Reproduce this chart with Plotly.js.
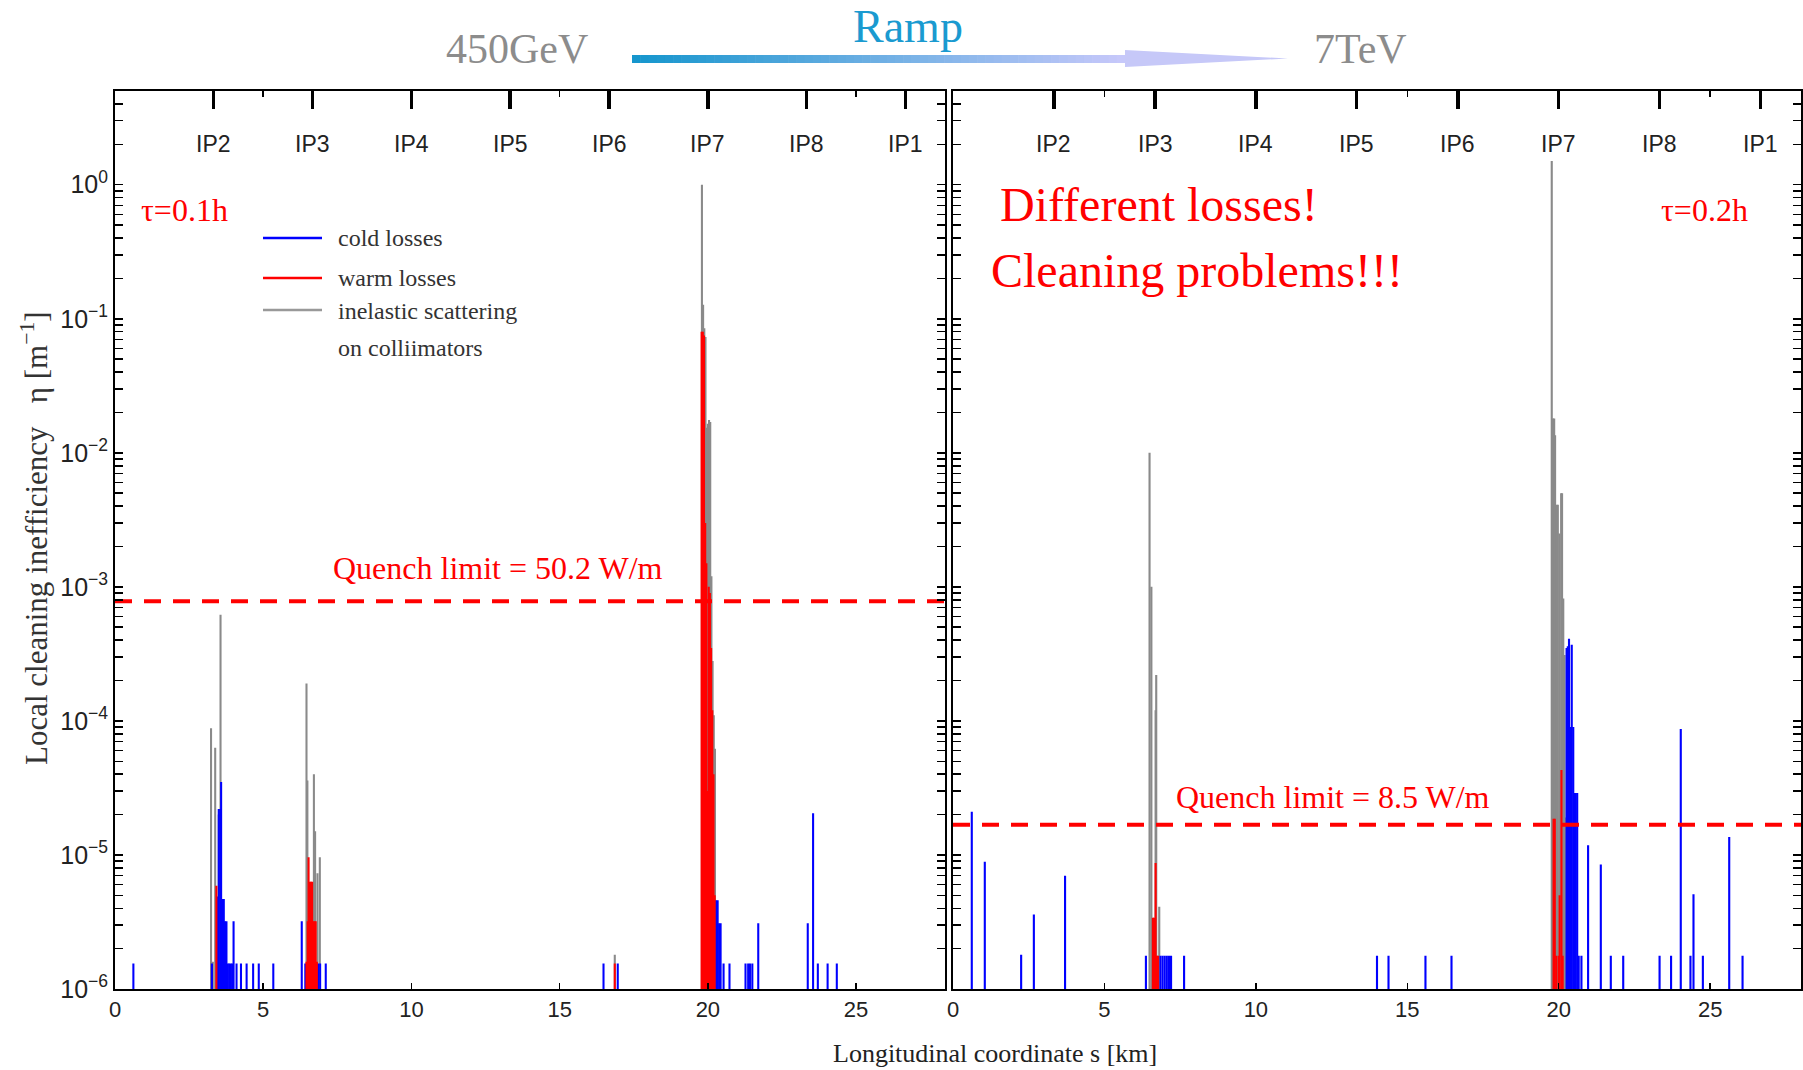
<!DOCTYPE html>
<html>
<head>
<meta charset="utf-8">
<script src="https://cdn.plot.ly/plotly-3.0.1.min.js"></script>
<style>html,body{margin:0;padding:0;background:#fff;}#chart{width:1803px;height:1070px;}</style>
</head>
<body>
<div id="chart"></div>
<script>
// ---------- DATA ----------
// s positions in km, values = local cleaning inefficiency eta [1/m]
const ipPositions = [3.33, 6.67, 10.0, 13.33, 16.67, 20.0, 23.33, 26.66];
const ipLabels = ['IP2', 'IP3', 'IP4', 'IP5', 'IP6', 'IP7', 'IP8', 'IP1'];
const sRange = [0, 28];
const etaTickVals = [1e-6, 1e-5, 1e-4, 1e-3, 1e-2, 1e-1, 1];
const etaTickText = ['10<sup>−6</sup>', '10<sup>−5</sup>', '10<sup>−4</sup>', '10<sup>−3</sup>', '10<sup>−2</sup>', '10<sup>−1</sup>', '10<sup>0</sup>'];

// 450 GeV, tau = 0.1 h
const inj_inelastic_s = [3.24, 3.30, 3.38, 3.50, 3.56, 6.46, 6.49, 6.71, 6.75, 6.83, 6.91, 16.86,
  19.80, 19.84, 19.88, 19.92, 19.96, 20.00, 20.04, 20.08, 20.12, 20.16, 20.20, 20.24];
const inj_inelastic_eta = [8.8e-5, 1.6e-6, 6.3e-5, 2.0e-5, 6.2e-4, 1.9e-4, 3.6e-5, 4.0e-5, 1.5e-5, 7.3e-6, 9.6e-6, 1.8e-6,
  1.0, 0.127, 0.085, 0.073, 0.0154, 0.0165, 0.0176, 0.017, 0.0012, 2.8e-4, 1.1e-4, 6.2e-5];

const inj_warm_s = [3.42, 6.46, 6.50, 6.53, 6.57, 6.61, 6.65, 6.69, 6.73, 6.77, 6.81, 16.86,
  19.79, 19.83, 19.87, 19.91, 19.95, 19.99, 20.03, 20.07, 20.11, 20.15, 20.19, 20.23];
const inj_warm_eta = [5.9e-6, 1.6e-6, 3.2e-6, 9.6e-6, 6.3e-6, 6.3e-6, 6.3e-6, 3.2e-6, 3.2e-6, 3.2e-6, 1.6e-6, 1.55e-6,
  0.08, 0.08, 0.075, 3.0e-3, 1.5e-3, 3.0e-5, 1.0e-3, 9.0e-4, 3.5e-4, 1.2e-4, 4.0e-5, 5.0e-6];

const inj_cold_s = [0.62, 3.27, 3.44, 3.50, 3.55, 3.58, 3.63, 3.67, 3.71, 3.76, 3.80, 3.85, 3.90, 3.95, 4.00,
  4.10, 4.25, 4.44, 4.66, 4.85, 5.34, 6.30, 6.42, 6.85, 6.92, 7.11, 16.48, 16.96,
  20.28, 20.33, 20.38, 20.43, 20.53, 20.73, 21.27, 21.36, 21.42, 21.50, 21.70,
  23.37, 23.55, 23.71, 24.04, 24.35];
const inj_cold_eta = [1.55e-6, 1.55e-6, 4.9e-6, 2.2e-5, 2.2e-5, 3.5e-5, 4.7e-6, 4.7e-6, 3.2e-6, 3.2e-6, 1.55e-6, 1.55e-6, 1.55e-6, 1.55e-6, 3.2e-6,
  1.55e-6, 1.55e-6, 1.55e-6, 1.55e-6, 1.55e-6, 1.55e-6, 3.2e-6, 1.55e-6, 1.55e-6, 1.55e-6, 1.55e-6, 1.55e-6, 1.55e-6,
  4.6e-6, 4.6e-6, 3.1e-6, 3.1e-6, 1.55e-6, 1.55e-6, 1.55e-6, 1.55e-6, 1.55e-6, 1.55e-6, 3.1e-6,
  3.1e-6, 2.05e-5, 1.55e-6, 1.55e-6, 1.55e-6];

// 7 TeV, tau = 0.2 h
const top_inelastic_s = [6.49, 6.55, 6.69, 6.71, 6.81,
  19.77, 19.81, 19.85, 19.88, 19.93, 19.97, 20.02, 20.08, 20.11, 20.15, 20.19, 20.23];
const top_inelastic_eta = [1.0e-2, 1.0e-3, 1.2e-4, 2.2e-4, 4.1e-6,
  1.5, 0.018, 0.018, 0.0135, 4.1e-3, 4.1e-3, 2.5e-3, 5.0e-3, 5.0e-3, 8.2e-4, 3.1e-4, 1.9e-5];

const top_warm_s = [6.60, 6.64, 6.69, 6.73, 6.77, 19.83, 19.87, 19.92, 20.00, 20.03, 20.09, 20.13];
const top_warm_eta = [3.4e-6, 3.4e-6, 8.7e-6, 1.77e-6, 1.77e-6, 1.86e-5, 1.86e-5, 1.77e-6, 1.77e-6, 5.0e-6, 4.3e-5, 1.77e-6];

const top_cold_s = [0.62, 1.05, 2.25, 2.67, 3.70, 6.37, 6.85, 6.92, 6.99, 7.06, 7.13, 7.20, 7.63,
  14.00, 14.38, 15.60, 16.46,
  20.26, 20.30, 20.34, 20.39, 20.43, 20.48, 20.52, 20.56, 20.61, 20.66, 20.75, 20.97, 21.39,
  21.72, 22.13, 23.33, 23.71, 24.03, 24.35, 24.45, 24.76, 25.63, 26.07];
const top_cold_eta = [2.1e-5, 8.9e-6, 1.8e-6, 3.6e-6, 7.0e-6, 1.77e-6, 1.77e-6, 1.77e-6, 1.77e-6, 1.77e-6, 1.77e-6, 1.77e-6, 1.77e-6,
  1.77e-6, 1.77e-6, 1.77e-6, 1.77e-6,
  3.5e-4, 3.6e-4, 4.1e-4, 9.0e-5, 3.7e-4, 9.0e-5, 2.9e-5, 2.9e-5, 2.9e-5, 1.77e-6, 1.77e-6, 1.18e-5, 8.5e-6,
  1.77e-6, 1.77e-6, 1.77e-6, 1.77e-6, 8.7e-5, 1.77e-6, 5.1e-6, 1.77e-6, 1.36e-5, 1.77e-6];

const quenchInj = 7.8e-4;   // 50.2 W/m
const quenchTop = 1.68e-5;  // 8.5 W/m

// ---------- STYLE ----------
const COLD = '#0000ff', WARM = '#ff0000', INEL = '#8a8a8a';
const SERIF = 'Liberation Serif, Times New Roman, serif';
const SANS = 'Liberation Sans, Arial, sans-serif';
const BW = 0.07;

function bars(x, y, color, xa, ya) {
  return {type: 'bar', x: x, y: y, width: BW, xaxis: xa, yaxis: ya,
    marker: {color: color, line: {width: 0}}, showlegend: false, hoverinfo: 'x+y'};
}
function quench(q, xa, ya) {
  return {type: 'scatter', mode: 'lines', x: sRange, y: [q, q], xaxis: xa, yaxis: ya,
    line: {color: '#ff0000', width: 4, dash: '17px,12px'}, showlegend: false, hoverinfo: 'y'};
}
// carrier for the IP tick axis (no visible marks)
function ipCarrier(xa, ya) {
  return {type: 'scatter', mode: 'markers', x: ipPositions, y: ipPositions.map(() => null),
    xaxis: xa, yaxis: ya, showlegend: false, hoverinfo: 'skip', marker: {opacity: 0}};
}

const data = [
  bars(inj_inelastic_s, inj_inelastic_eta, INEL, 'x', 'y'),
  bars(inj_cold_s, inj_cold_eta, COLD, 'x', 'y'),
  bars(inj_warm_s, inj_warm_eta, WARM, 'x', 'y'),
  quench(quenchInj, 'x', 'y'),
  bars(top_inelastic_s, top_inelastic_eta, INEL, 'x2', 'y2'),
  bars(top_cold_s, top_cold_eta, COLD, 'x2', 'y2'),
  bars(top_warm_s, top_warm_eta, WARM, 'x2', 'y2'),
  quench(quenchTop, 'x2', 'y2'),
  ipCarrier('x3', 'y'),
  ipCarrier('x4', 'y2')
];

// geometry helpers (pixel -> paper)
const PL = 115, PR = 1801, PT = 91, PB = 989;
const px = v => (v - PL) / (PR - PL);
const py = v => (PB - v) / (PB - PT);

function xAxis(domain, anchor) {
  return {domain: domain, anchor: anchor, range: sRange, dtick: 5, tick0: 0,
    ticks: 'inside', ticklen: 6, tickwidth: 1.5, tickcolor: '#000', mirror: 'allticks',
    showline: true, linewidth: 2, linecolor: '#000', showgrid: false, zeroline: false,
    tickfont: {family: SANS, size: 22, color: '#222'}, fixedrange: true};
}
function yAxis(domain, anchor, labels) {
  return {domain: domain, anchor: anchor, type: 'log', range: [-6, Math.log10(5)],
    tickmode: 'array', tickvals: etaTickVals, ticktext: etaTickText, showticklabels: labels,
    ticks: 'inside', ticklen: 8, tickwidth: 1.5, tickcolor: '#000', mirror: 'allticks',
    minor: {ticks: 'inside', ticklen: 4, dtick: 'D1', tickcolor: '#000', showgrid: false},
    showline: true, linewidth: 2, linecolor: '#000', showgrid: false, zeroline: false,
    tickfont: {family: SANS, size: 25, color: '#222'}, fixedrange: true};
}
function ipAxis(over, anchor) {
  return {overlaying: over, anchor: anchor, side: 'top', range: sRange,
    tickmode: 'array', tickvals: ipPositions, ticktext: ipLabels, showticklabels: false,
    ticks: 'inside', ticklen: 18, tickwidth: 3.5, tickcolor: '#000',
    showline: false, showgrid: false, zeroline: false, fixedrange: true};
}

const annotations = [];
const shapes = [];
function txt(text, x, y, size, color, opts) {
  annotations.push(Object.assign({text: text, x: x, y: y, xref: 'paper', yref: 'paper',
    xanchor: 'center', yanchor: 'middle',
    showarrow: false, font: {family: SERIF, size: size, color: color}}, opts || {}));
}

// IP labels (inside the top of each panel)
ipPositions.forEach((p, i) => {
  ['x', 'x2'].forEach(xr => annotations.push({text: ipLabels[i], x: p, xref: xr, y: py(144), yref: 'paper',
    xanchor: 'center', yanchor: 'middle',
    showarrow: false, font: {family: SANS, size: 23, color: '#222'}}));
});

// header
txt('450GeV', px(517), py(49), 42, '#8c8c8c');
txt('Ramp', px(908), py(27), 46, '#1a9ad0');
txt('7TeV', px(1360), py(49), 42, '#8c8c8c');

// gradient arrow
const NSEG = 60, ax0 = 632, ax1 = 1125;
const c0 = [22, 150, 205], c1 = [198, 200, 250];
for (let i = 0; i < NSEG; i++) {
  const t = i / (NSEG - 1);
  const c = c0.map((v, k) => Math.round(v + (c1[k] - v) * t));
  shapes.push({type: 'rect', xref: 'paper', yref: 'paper',
    x0: px(ax0 + (ax1 - ax0) * i / NSEG), x1: px(ax0 + (ax1 - ax0) * (i + 1) / NSEG + 0.6),
    y0: py(63), y1: py(55), line: {width: 0}, fillcolor: 'rgb(' + c.join(',') + ')'});
}
shapes.push({type: 'path', xref: 'paper', yref: 'paper',
  path: 'M ' + px(1125) + ' ' + py(50) + ' L ' + px(1288) + ' ' + py(58.5) + ' L ' + px(1125) + ' ' + py(67) + ' Z',
  fillcolor: 'rgb(198,200,248)', line: {width: 0}});

// legend (drawn)
const legY = [238, 278, 310];
const legC = [COLD, WARM, '#999999'];
legY.forEach((y, i) => shapes.push({type: 'line', xref: 'paper', yref: 'paper',
  x0: px(263), x1: px(322), y0: py(y), y1: py(y), line: {color: legC[i], width: 2.5}}));
txt('cold losses', px(336), py(238), 24, '#333', {xanchor: 'left'});
txt('warm losses', px(336), py(278), 24, '#333', {xanchor: 'left'});
txt('inelastic scattering', px(336), py(311), 24, '#333', {xanchor: 'left'});
txt('on colliimators', px(336), py(348), 24, '#333', {xanchor: 'left'});

// panel labels
txt('τ=0.1h', px(184), py(210), 32, '#ff0000');
txt('τ=0.2h', px(1704), py(210), 32, '#ff0000');
txt('Different losses!', px(998), py(205), 48, '#ff0000', {xanchor: 'left'});
txt('Cleaning problems!!!', px(989), py(270), 48, '#ff0000', {xanchor: 'left'});
txt('Quench limit = 50.2 W/m', px(498), py(568), 32, '#ff0000');
txt('Quench limit = 8.5 W/m', px(1333), py(797), 32, '#ff0000');

// axis titles
txt('Longitudinal coordinate s [km]', px(995), py(1053), 26, '#222');
txt('Local cleaning inefficiency   η [m<sup>−1</sup>]', px(34), py(538), 31, '#333', {textangle: -90});

const layout = {
  width: 1803, height: 1070,
  margin: {l: PL, r: 1803 - PR, t: PT, b: 1070 - PB, pad: 0},
  paper_bgcolor: '#ffffff', plot_bgcolor: '#ffffff',
  barmode: 'overlay', showlegend: false,
  xaxis: xAxis([0, px(945)], 'y'),
  yaxis: yAxis([0, 1], 'x', true),
  xaxis2: xAxis([px(953), 1], 'y2'),
  yaxis2: yAxis([0, 1], 'x2', false),
  xaxis3: ipAxis('x', 'y'),
  xaxis4: ipAxis('x2', 'y2'),
  annotations: annotations,
  shapes: shapes
};

Plotly.newPlot('chart', data, layout, {displayModeBar: false, staticPlot: true});
</script>
</body>
</html>
